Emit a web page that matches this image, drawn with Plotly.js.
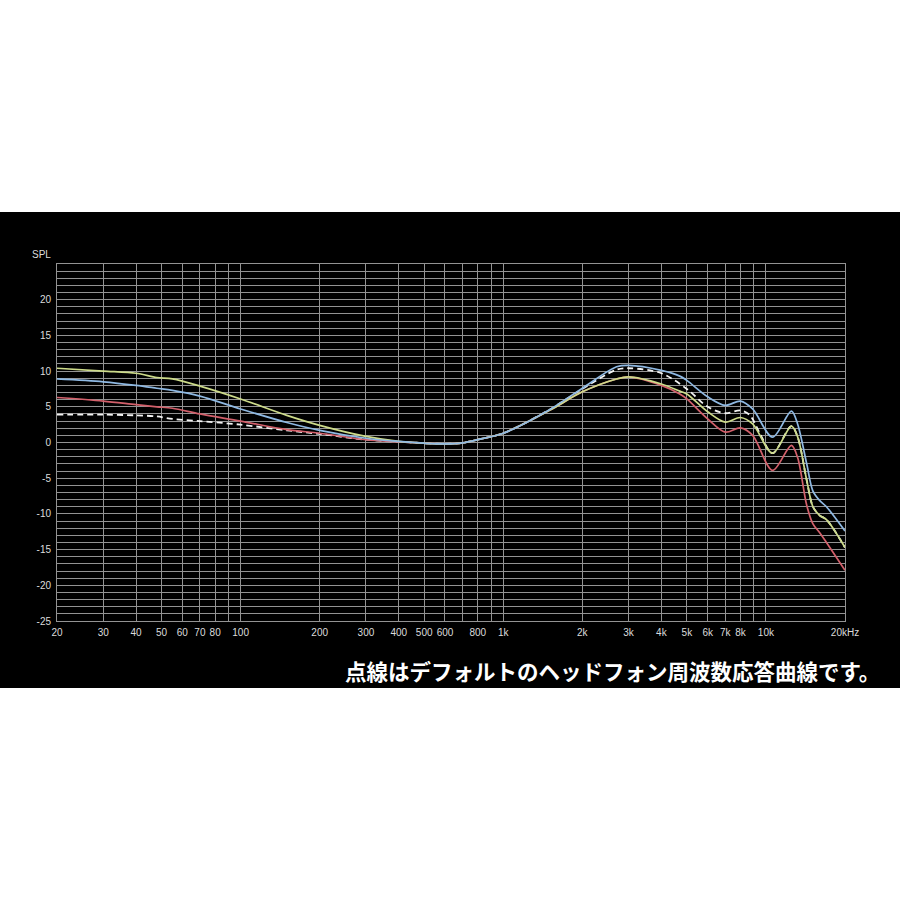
<!DOCTYPE html>
<html>
<head>
<meta charset="utf-8">
<script src="https://cdn.plot.ly/plotly-3.0.1.min.js"></script>
<style>html,body{margin:0;padding:0;background:#fff;}#chart{width:900px;height:900px;}</style>
</head>
<body>
<div id="chart"></div>
<script>
// Frequencies (Hz)
const freqLow = [20, 30, 40, 48, 55, 70, 100, 150, 200, 300, 400, 500, 600, 700, 800, 1000, 1500, 2000, 2700, 3000, 4000, 4700, 5000, 6000, 7000, 8000, 8900, 10600, 12500, 13200, 14300, 15100, 16000, 17000, 20000];
const greenVals = [10.4, 10.0, 9.7, 9.1, 8.9, 7.9, 6.1, 3.8, 2.4, 0.85, 0.15, -0.1, -0.2, -0.05, 0.4, 1.3, 4.5, 7.1, 8.9, 9.2, 8.2, 7.2, 6.8, 4.3, 2.85, 3.5, 2.6, -1.5, 2.3, 0.8, -5.3, -9.0, -10.2, -10.8, -14.7];
const blueVals  = [8.9, 8.5, 8.0, 7.6, 7.3, 6.5, 4.7, 2.8, 1.7, 0.6, 0.15, -0.1, -0.2, -0.05, 0.4, 1.3, 4.6, 7.6, 10.6, 10.8, 10.1, 9.3, 8.7, 6.4, 5.2, 5.8, 4.7, 0.75, 4.4, 2.6, -3.0, -6.8, -8.1, -9.0, -12.4];
const redVals   = [6.3, 5.8, 5.3, 5.0, 4.8, 4.0, 3.0, 1.8, 1.3, 0.4, 0.1, -0.1, -0.2, -0.05, 0.4, 1.3, 4.5, 7.1, 8.9, 9.2, 8.0, 6.8, 6.1, 3.3, 1.45, 2.05, 1.0, -3.9, -0.4, -2.1, -8.8, -11.4, -12.6, -14.0, -17.9];
// Default headphone response (dashed)
const freqDash = [20, 30, 40, 48, 55, 70, 100, 150, 200, 300, 400, 500, 600, 700, 800, 1000, 1500, 2000, 2700, 3000, 4000, 5000, 6000, 7000, 8000, 8700, 9500, 10600, 12500, 13200, 14300, 15100, 16000, 17000, 20000];
const dashVals = [3.9, 3.9, 3.8, 3.65, 3.3, 3.0, 2.5, 1.7, 1.2, 0.4, 0.1, -0.1, -0.2, -0.05, 0.4, 1.3, 4.6, 7.5, 10.2, 10.4, 9.7, 7.5, 5.0, 4.1, 4.5, 3.8, 1.2, -1.5, 2.3, 0.8, -5.3, -9.0, -10.2, -10.8, -14.7];

const xTickVals = [20,30,40,50,60,70,80,90,100,200,300,400,500,600,700,800,900,1000,2000,3000,4000,5000,6000,7000,8000,9000,10000,20000];
const xTickText = ['20','30','40','50','60','70','80','','100','200','300','400','500','600','','800','','1k','2k','3k','4k','5k','6k','7k','8k','','10k','20kHz'];
const yTickVals = [-25,-20,-15,-10,-5,0,5,10,15,20];
const yTickText = ['-25','-20','-15','-10','-5','0','5','10','15','20'];

const axisTitle = 'SPL';
const caption = '点線はデフォルトのヘッドフォン周波数応答曲線です。';

const lineBase = {shape:'spline', smoothing:0.9, width:1.7};
const traces = [
  {x:freqDash, y:dashVals, mode:'lines', line:Object.assign({}, lineBase, {color:'#f2f2f2', dash:'6px,4px', width:1.8}), hoverinfo:'skip'},
  {x:freqLow, y:redVals, mode:'lines', line:Object.assign({}, lineBase, {color:'#d3606b'})},
  {x:freqLow, y:greenVals, mode:'lines', line:Object.assign({}, lineBase, {color:'#cddb8a'})},
  {x:freqLow, y:blueVals, mode:'lines', line:Object.assign({}, lineBase, {color:'#8fb9e3'})}
];

const gridC = '#939393';
const layout = {
  width:900, height:900,
  paper_bgcolor:'#ffffff',
  plot_bgcolor:'rgba(0,0,0,0)',
  showlegend:false,
  margin:{l:57, r:55, t:264, b:279, pad:0},
  font:{family:'"Liberation Sans", Arial, sans-serif', size:10, color:'#dcdcdc'},
  xaxis:{
    type:'log', range:[Math.log10(20), Math.log10(20000)],
    tickmode:'array', tickvals:xTickVals, ticktext:xTickText,
    showgrid:true, gridcolor:gridC, gridwidth:1,
    showline:true, linecolor:gridC, linewidth:1, mirror:true,
    ticks:'', ticklabelstandoff:2,
    tickfont:{size:10, color:'#dcdcdc'},
    zeroline:false, fixedrange:true
  },
  yaxis:{
    range:[-25, 25],
    tickmode:'array', tickvals:yTickVals, ticktext:yTickText,
    showgrid:true, gridcolor:gridC, gridwidth:1,
    minor:{dtick:1, showgrid:true, gridcolor:gridC, gridwidth:1, ticks:''},
    showline:true, linecolor:gridC, linewidth:1, mirror:true,
    ticks:'', ticklabelstandoff:3,
    tickfont:{size:10, color:'#dcdcdc'},
    zeroline:false, fixedrange:true
  },
  shapes:[
    {type:'rect', xref:'paper', yref:'paper', x0:-0.08, x1:1.08, y0:-0.188, y1:1.146, fillcolor:'#000000', line:{width:0}, layer:'below'}
  ],
  annotations:[
    {text:axisTitle, xref:'paper', yref:'paper', x:-0.005, y:1.0, xanchor:'right', yanchor:'bottom', yshift:2, showarrow:false, font:{size:10, color:'#dcdcdc'}},
    {text:caption, xref:'paper', yref:'paper', x:1.047, y:-0.14, xanchor:'right', yanchor:'middle', showarrow:false, font:{family:'"Noto Sans CJK JP", sans-serif', size:21.5, color:'#ffffff', weight:700}}
  ]
};

Plotly.newPlot('chart', traces, layout, {displayModeBar:false, staticPlot:true});
</script>
</body>
</html>
